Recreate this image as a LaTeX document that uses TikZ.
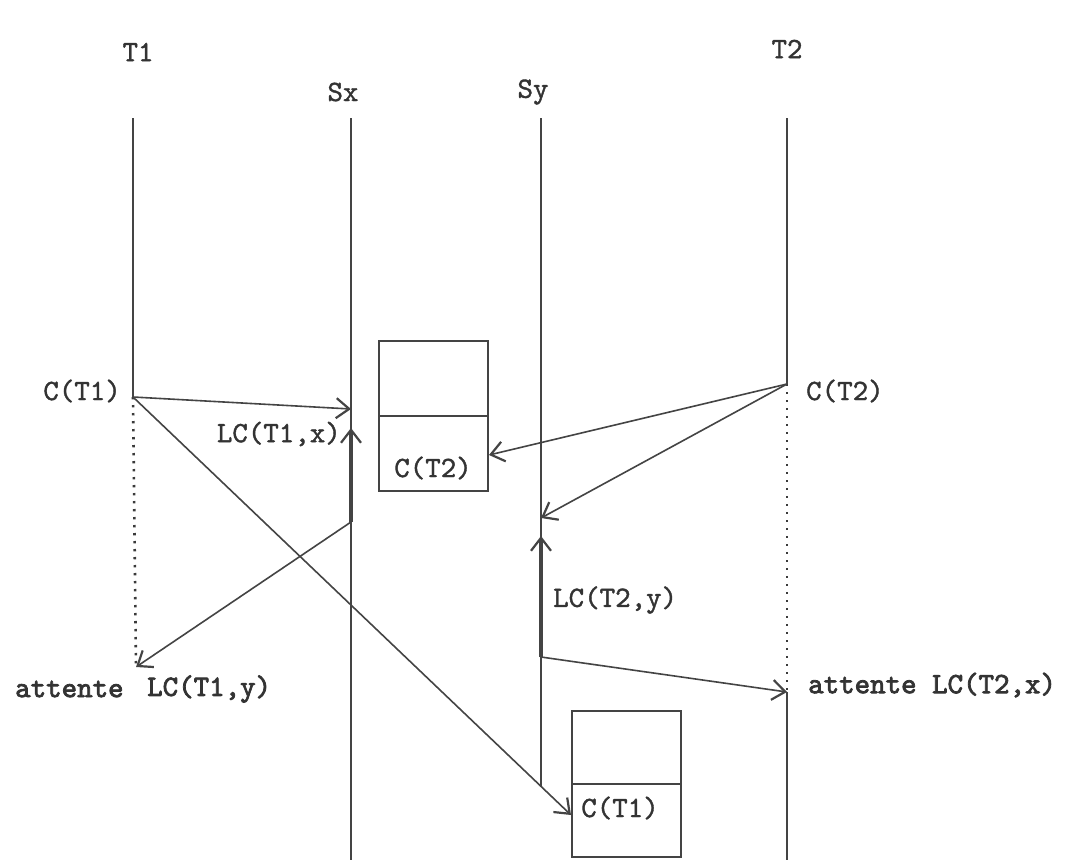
\documentclass[tikz,border=0pt]{standalone}
\usepackage{fontspec}
\newfontfamily\dm[FakeBold=1.3]{lmmono10-regular.otf}
\newfontfamily\dmb[FakeBold=2.6]{lmmono10-regular.otf}
\usetikzlibrary{arrows.meta}
\definecolor{ink}{HTML}{444444}
\definecolor{txt}{HTML}{333333}
\begin{document}
\begin{tikzpicture}[x=1pt,y=-1pt,
  lbl/.style={font=\dm\fontsize{29.5}{29.5}\selectfont, text=txt, inner sep=0pt},
  blbl/.style={lbl, font=\dmb\fontsize{29.5}{29.5}\selectfont},
  life/.style={draw=ink, line width=1.4pt},
  dots/.style={draw=ink!85!black, line width=2.6pt, dash pattern=on 2.4pt off 5.6pt},
  msg/.style={draw=ink, line width=1.6pt, -{Straight Barb[length=13pt,width=20pt,line width=2.2pt]}},
  lock/.style={msg, line width=3.6pt},
  mem/.style={draw=ink, line width=1.8pt, rectangle, inner sep=0pt, outer sep=0pt}]
\useasboundingbox[fill=white] (0,0) rectangle (1067,860);

% lifeline points
\coordinate (t1top) at (133,118);
\coordinate (t1c) at (133,397);
\coordinate (t1w) at (136,667);
\coordinate (sxtop) at (351,118);
\coordinate (sxbot) at (351,860);
\coordinate (sxa) at (351,409);
\coordinate (sxhi) at (351,428);
\coordinate (sxlo) at (351,522);
\coordinate (sytop) at (541,118);
\coordinate (sybot) at (541,787);
\coordinate (sya) at (541,518);
\coordinate (syhi) at (541,536);
\coordinate (sylo) at (541,657);
\coordinate (t2top) at (787,118);
\coordinate (t2c) at (787,384);
\coordinate (t2w) at (787,692);
\coordinate (t2bot) at (787,860);

% headers
\node[lbl] (hT1) at (138,52) {T1};
\node[lbl] (hSx) at (343,92) {Sx};
\node[lbl] (hSy) at (533,92) {Sy};
\node[lbl] (hT2) at (787,49) {T2};

% lifelines
\draw[life] (t1top) -- (t1c);
\draw[dots] (t1c) -- (t1w);
\draw[life] (sxtop) -- (sxbot);
\draw[life] (sytop) -- (sybot);
\draw[life] (t2top) -- (t2c);
\draw[dots] (t2c) -- (t2w);
\draw[life] (t2w) -- (t2bot);

% memory boxes
\node[mem, minimum width=109pt, minimum height=150pt] (box1) at (433.5,416) {};
\draw[draw=ink, line width=1.8pt] (box1.west) -- (box1.east);
\node[lbl] (c2in) at (433,468) {C(T2)};
\node[mem, minimum width=109pt, minimum height=146pt] (box2) at (626.5,784) {};
\draw[draw=ink, line width=1.8pt] (box2.west) -- (box2.east);
\node[lbl] (c1in) at (620,808) {C(T1)};
\coordinate (b1in) at (489,455);
\coordinate (b2in) at (571,815);

% labels
\node[lbl, anchor=east] (cT1) at (121,391) {C(T1)};
\node[lbl, anchor=west] (cT2) at (806,391) {C(T2)};
\node[lbl, anchor=east] (lT1x) at (341,434) {LC(T1,x)};
\node[lbl, anchor=west] (lT2y) at (553,600) {LC(T2,y)};
\node[blbl, anchor=west] (att1) at (15,689) {attente};
\node[blbl, anchor=west] (lT1y) at (147,689) {LC(T1,y)};
\node[blbl, anchor=west] (att2) at (808,685) {attente LC(T2,x)};

% messages
\draw[msg] (t1c) -- (sxa);
\draw[msg] (t1c) -- (b2in);
\draw[msg] (t2c) -- (b1in);
\draw[msg] (t2c) -- (sya);
\draw[lock] (sxlo) -- (sxhi);
\draw[msg] (sxlo) -- (t1w);
\draw[lock] (sylo) -- (syhi);
\draw[msg] (sylo) -- (t2w);
\end{tikzpicture}
\end{document}
